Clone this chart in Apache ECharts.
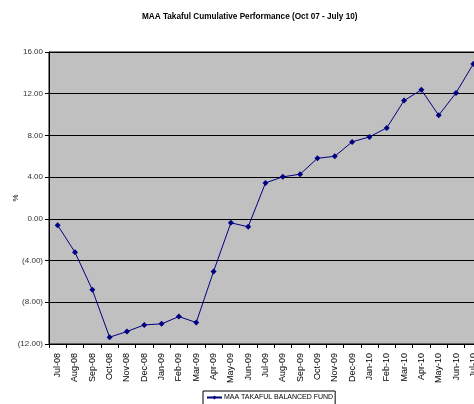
<!DOCTYPE html>
<html>
<head>
<meta charset="utf-8">
<script src="https://cdn.jsdelivr.net/npm/echarts@6/dist/echarts.min.js"></script>
<style>
html, body { margin: 0; padding: 0; background: #fff; }
#chart { width: 474px; height: 404px; }
</style>
</head>
<body>
<div id="chart"></div>
<script>
var months = ['Jul-08', 'Aug-08', 'Sep-08', 'Oct-08', 'Nov-08', 'Dec-08', 'Jan-09', 'Feb-09', 'Mar-09',
	'Apr-09', 'May-09', 'Jun-09', 'Jul-09', 'Aug-09', 'Sep-09', 'Oct-09', 'Nov-09', 'Dec-09',
	'Jan-10', 'Feb-10', 'Mar-10', 'Apr-10', 'May-10', 'Jun-10', 'Jul-10'];
var balancedFund = [-0.61, -3.2, -6.8, -11.35, -10.8, -10.17, -10.07, -9.37, -9.94,
	-5.05, -0.38, -0.76, 3.45, 4.03, 4.28, 5.81, 6.0, 7.38,
	7.86, 8.72, 11.34, 12.37, 9.93, 12.08, 14.86];
var seriesName = 'MAA TAKAFUL BALANCED FUND';

var fmt = function(v) {
	if (v < 0) return '(' + Math.abs(v).toFixed(2) + ')';
	return v.toFixed(2);
};

var option = {
	backgroundColor: '#fff',
	title: {
		text: 'MAA Takaful Cumulative Performance (Oct 07 - July 10)',
		left: 142,
		top: 13,
		padding: 0,
		textStyle: {
			fontFamily: 'Liberation Sans',
			fontSize: 8.2,
			fontWeight: 'bold',
			color: '#000'
		}
	},
	grid: {
		left: 49,
		top: 52,
		width: 433,
		height: 292,
		outerBoundsMode: 'none',
		containLabel: false,
		show: true,
		backgroundColor: '#c0c0c0',
		borderColor: '#000',
		borderWidth: 1
	},
	legend: {
		data: [seriesName],
		left: 203,
		top: 391,
		itemWidth: 15,
		itemHeight: 5,
		itemGap: 2,
		padding: [3, 2, 4, 3],
		borderColor: '#000',
		borderWidth: 1,
		borderRadius: 0,
		textStyle: {
			fontFamily: 'Liberation Sans',
			fontSize: 7,
			padding: [0, 0, 0, -3],
			color: '#000'
		}
	},
	xAxis: {
		type: 'category',
		data: months,
		boundaryGap: true,
		axisLine: { onZero: false, lineStyle: { color: '#000', width: 1 } },
		axisTick: { show: true, length: 4, lineStyle: { color: '#000' } },
		axisLabel: {
			rotate: 90,
			interval: 0,
			margin: 9,
			fontFamily: 'Liberation Sans',
			fontSize: 9,
			color: '#000'
		}
	},
	yAxis: {
		type: 'value',
		min: -12,
		max: 16,
		interval: 4,
		name: '%',
		nameLocation: 'middle',
		nameGap: 29,
		nameRotate: 90,
		nameMoveOverlap: false,
		nameTextStyle: { fontFamily: 'Liberation Sans', fontSize: 8, color: '#000' },
		axisLine: { show: true, lineStyle: { color: '#000' } },
		axisTick: { show: true, length: 4, lineStyle: { color: '#000' } },
		axisLabel: {
			formatter: fmt,
			margin: 6,
			fontFamily: 'Liberation Sans',
			fontSize: 8,
			color: '#333'
		},
		splitLine: { lineStyle: { color: '#000', width: 1 } }
	},
	series: [{
		name: seriesName,
		type: 'line',
		data: balancedFund,
		symbol: 'diamond',
		symbolSize: 6,
		lineStyle: { color: '#000080', width: 1 },
		itemStyle: { color: '#000080' },
		animation: false
	}]
};

var chart = echarts.init(document.getElementById('chart'));
chart.setOption(option);
</script>
</body>
</html>
